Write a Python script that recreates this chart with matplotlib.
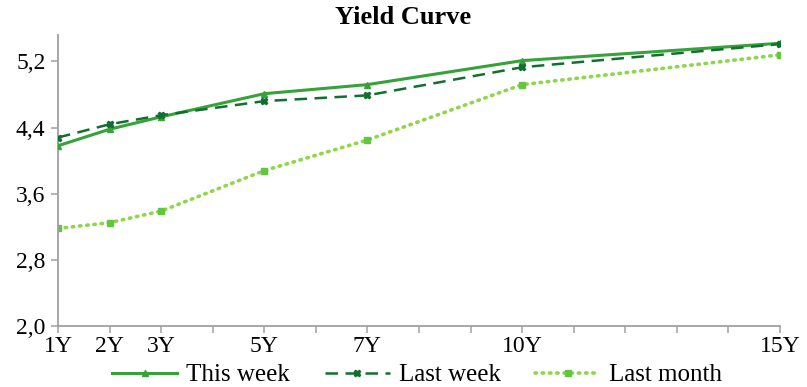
import matplotlib
matplotlib.use("Agg")
import matplotlib.pyplot as plt
from matplotlib.ticker import FuncFormatter, FixedLocator

years = [1, 2, 3, 5, 7, 10, 15]
tick_labels = ["1Y", "2Y", "3Y", "5Y", "7Y", "10Y", "15Y"]
this_week = [4.18, 4.38, 4.53, 4.81, 4.92, 5.21, 5.42]
last_week = [4.28, 4.44, 4.55, 4.72, 4.79, 5.13, 5.41]
last_month = [3.18, 3.25, 3.39, 3.88, 4.25, 4.92, 5.28]
y_ticks = [2.0, 2.8, 3.6, 4.4, 5.2]

plt.rcParams['font.family'] = ['Liberation Serif', 'DejaVu Serif']

fig = plt.figure(figsize=(8.07, 3.87), dpi=100)
ax = fig.add_axes([58/807, 1-326/387, (780-58)/807, (326-35)/387])

ax.plot(years, this_week, color='#35A23A', lw=2.2, marker='^', ms=5,
        label='This week', zorder=3)
ax.plot(years, last_week, color='#11702F', lw=1.8, ls=(0, (5, 3)), marker='X', ms=5,
        label='Last week', zorder=4)
ax.plot(years, last_month, color='#8ED64A', lw=2.6, ls=(0, (0.4, 1.6)),
        dash_capstyle='round', marker='s', ms=5, mfc='#62C63E', mec='#62C63E',
        label='Last month', zorder=2)

ax.set_xlim(1, 15)
ax.set_ylim(2.0, 5.52)
ax.xaxis.set_major_locator(FixedLocator(list(range(1, 16))))
lab = {y: t for y, t in zip(years, tick_labels)}
ax.xaxis.set_major_formatter(FuncFormatter(lambda v, p: lab.get(int(round(v)), "")))
ax.yaxis.set_major_locator(FixedLocator(y_ticks))
ax.yaxis.set_major_formatter(FuncFormatter(lambda v, p: f"{v:.1f}".replace('.', ',')))

for s in ['top', 'right']:
    ax.spines[s].set_visible(False)
for s in ['left', 'bottom']:
    ax.spines[s].set_color('#A0A0A0')
    ax.spines[s].set_linewidth(1.3)
ax.tick_params(axis='both', direction='out', length=5, width=1.1, color='#A0A0A0',
               labelsize=17, labelcolor='black')
ax.tick_params(axis='x', pad=2)
ax.tick_params(axis='y', pad=4)

fig.text(0.5, 1 - 18/387, 'Yield Curve', ha='center', va='center',
         fontsize=19, fontweight='bold')

leg = fig.legend(loc='center', bbox_to_anchor=(0.517, 1 - 375/387), ncol=3, frameon=False,
                 fontsize=18, handlelength=2.6, columnspacing=1.4, handletextpad=0.35,
                 borderpad=0, borderaxespad=0)

fig.savefig('out.png', dpi=100)
